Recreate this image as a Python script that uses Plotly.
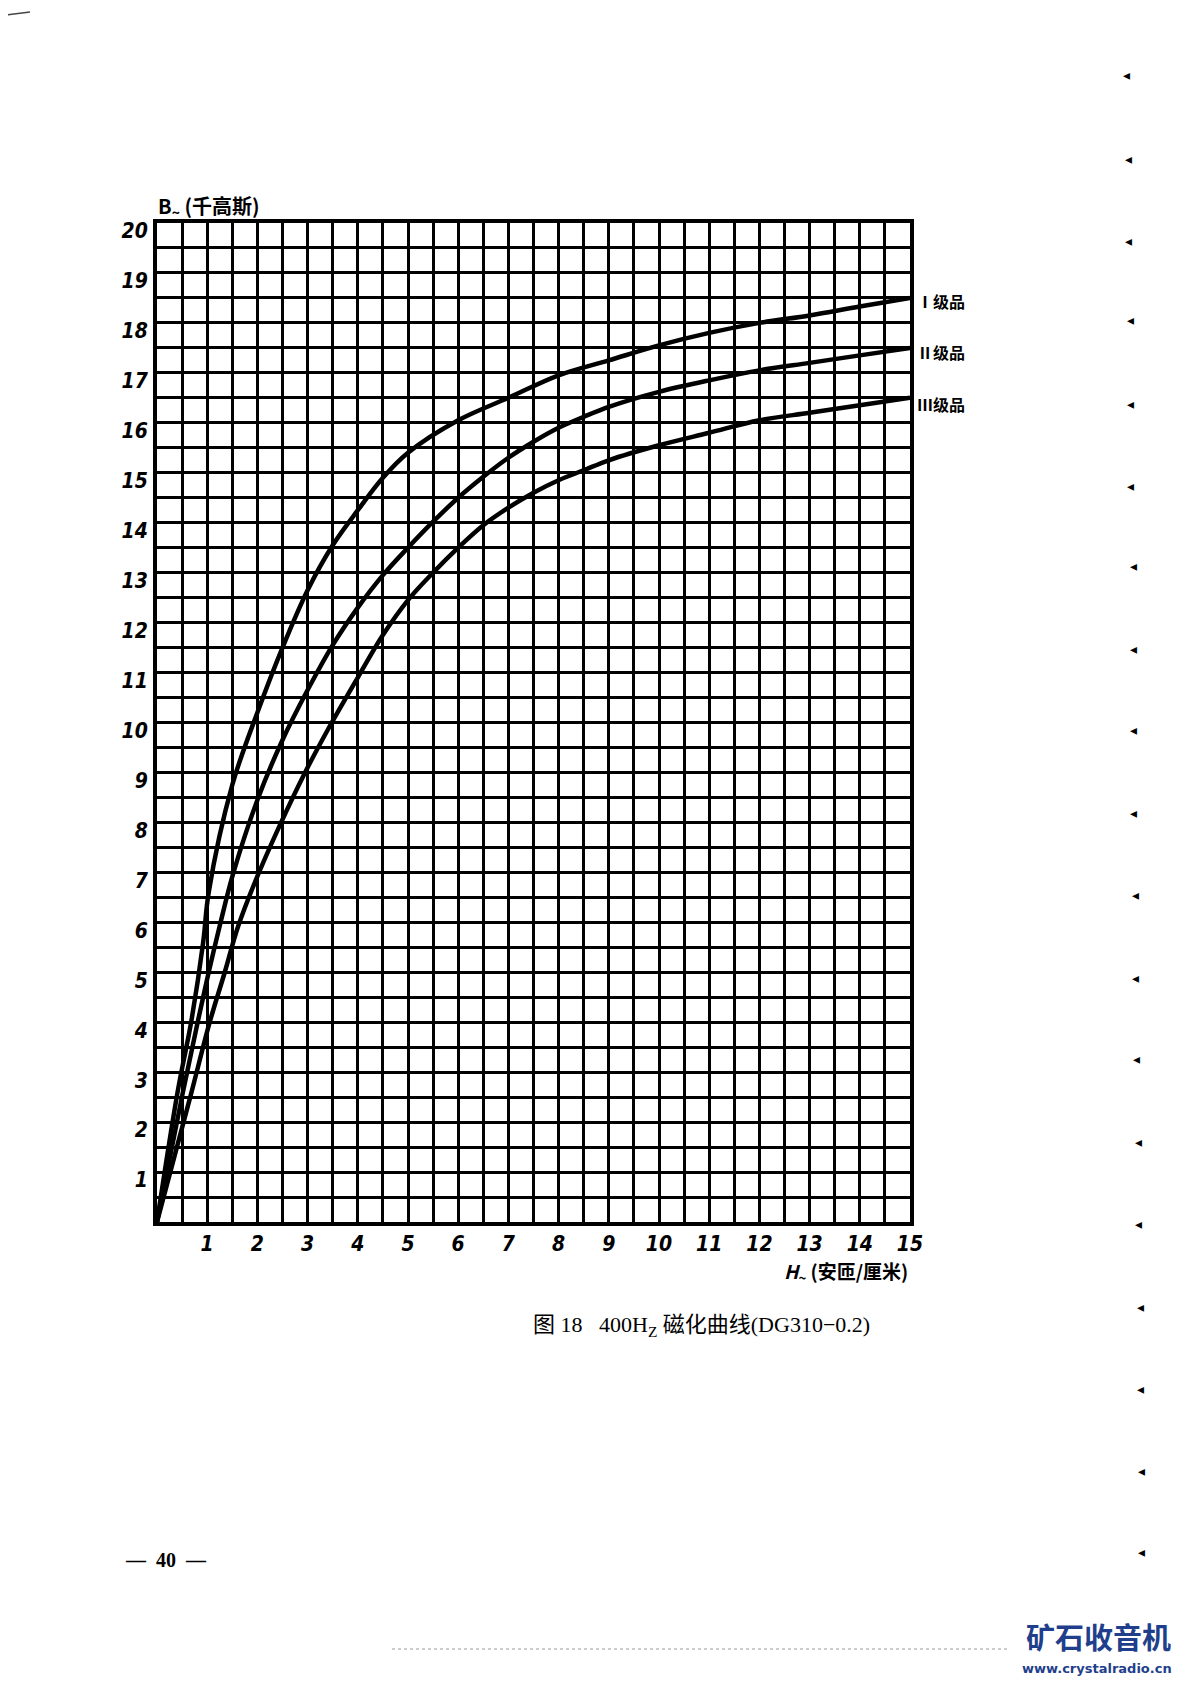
import plotly.graph_objects as go

# ---- data ----
H_I = [0, 0.41, 0.68, 0.92, 1.03, 1.5, 2.0, 2.5, 3.0, 3.5, 4.0, 4.5, 5.0, 6.0, 7.0, 8.0,
       9.0, 10.0, 11.0, 12.0, 13.0, 14.0, 15.0]
B_I = [0, 2.6, 4.0, 5.6, 6.6, 8.75, 10.2, 11.5, 12.65, 13.55, 14.25, 14.9, 15.4, 16.05, 16.5,
       16.95, 17.25, 17.55, 17.8, 18.0, 18.15, 18.33, 18.5]

H_II = [0, 0.51, 0.81, 1.03, 1.25, 1.51, 2.0, 2.5, 3.0, 3.5, 4.0, 4.5, 5.0, 5.5, 6.0, 6.5,
        7.0, 7.5, 8.0, 8.5, 9.0, 10.0, 11.0, 12.0, 13.0, 14.0, 15.0]
B_II = [0, 2.57, 4.0, 5.0, 5.93, 6.95, 8.45, 9.65, 10.65, 11.55, 12.3, 12.95, 13.5, 14.02,
        14.5, 14.92, 15.3, 15.62, 15.9, 16.12, 16.32, 16.62, 16.85, 17.05, 17.2, 17.35, 17.5]

H_III = [0, 0.68, 1.05, 1.35, 1.61, 1.95, 2.45, 2.95, 3.4, 4.0, 4.5, 5.0, 5.5, 6.0, 6.5,
         7.0, 7.5, 8.0, 8.5, 9.0, 10.0, 11.0, 12.0, 13.0, 14.0, 15.0]
B_III = [0, 2.57, 4.0, 5.0, 5.9, 6.8, 7.95, 9.0, 9.85, 10.9, 11.75, 12.45, 13.0, 13.5, 13.95,
         14.3, 14.6, 14.85, 15.05, 15.25, 15.55, 15.8, 16.05, 16.2, 16.35, 16.5]

series_names = ["Ⅰ级品", "Ⅱ级品", "Ⅲ级品"]
x_ticks = list(range(1, 16))
y_ticks = list(range(1, 21))
y_title = "B<sub>~</sub> (千高斯)"
x_title = "<i>H</i><sub>~</sub> (安匝/厘米)"
caption = "图 18   400H<sub>Z</sub> 磁化曲线(DG310−0.2)"
page_no = "—  40  —"

PAGE_W, PAGE_H = 1187, 1684
OFF = 8  # default body margin of the html page
FIG_W, FIG_H = PAGE_W - 2 * OFF, PAGE_H - 2 * OFF
L, R, T, B = 157, 910, 223, 1222  # plot area in page pixels


def px(X):
    return (X - L) / (R - L)


def py(Y):
    return (B - Y) / (B - T)


fig = go.Figure()
curves = [(H_I, B_I), (H_II, B_II), (H_III, B_III)]
for (xs, ys), nm in zip(curves, series_names):
    fig.add_trace(go.Scatter(x=xs, y=ys, mode="lines", name=nm,
                             line=dict(color="black", width=4.5, shape="spline", smoothing=1.0),
                             showlegend=False, cliponaxis=True))

tickfont = dict(family="DejaVu Sans Condensed, DejaVu Sans", size=21, color="black")

fig.update_xaxes(range=[0, 15], tickmode="array", tickvals=x_ticks,
                 ticktext=[f"<b><i>{v}</i></b>" for v in x_ticks],
                 showgrid=True, gridcolor="black", gridwidth=2.5,
                 minor=dict(tick0=0, dtick=0.5, showgrid=True, gridcolor="black", gridwidth=2.5),
                 showline=True, linecolor="black", linewidth=4, mirror=True,
                 zeroline=False, ticks="", tickfont=tickfont, ticklabelstandoff=0)
fig.update_yaxes(range=[0, 20], tickmode="array", tickvals=y_ticks,
                 ticktext=[f"<b><i>{v}</i></b>" for v in y_ticks],
                 showgrid=True, gridcolor="black", gridwidth=2.5,
                 minor=dict(tick0=0, dtick=0.5, showgrid=True, gridcolor="black", gridwidth=2.5),
                 showline=True, linecolor="black", linewidth=4, mirror=True,
                 zeroline=False, ticks="", tickfont=tickfont, ticklabelstandoff=1,
                 ticklabelshift=8)

ann = []
# axis titles
ann.append(dict(x=px(156), y=py(206), xref="paper", yref="paper", xanchor="left",
                yanchor="middle", text=f"<b>{y_title}</b>", showarrow=False,
                font=dict(family="Noto Sans CJK SC", size=20, color="black")))
ann.append(dict(x=px(910), y=py(1272), xref="paper", yref="paper", xanchor="right",
                yanchor="middle", text=f"<b>{x_title}</b>", showarrow=False,
                font=dict(family="Noto Sans CJK SC", size=19, color="black")))
# curve labels
for nm, yy in zip(series_names, [301, 352, 404]):
    ann.append(dict(x=px(915), y=py(yy), xref="paper", yref="paper", xanchor="left",
                    yanchor="middle", text=f"<b>{nm}</b>", showarrow=False,
                    font=dict(family="Noto Sans CJK SC", size=16, color="black")))
# caption
ann.append(dict(x=px(701), y=py(1326), xref="paper", yref="paper",
                xanchor="center", yanchor="middle", text=caption, showarrow=False,
                font=dict(family="Liberation Serif, Noto Sans CJK SC", size=22, color="black")))
# page number
ann.append(dict(x=px(166), y=py(1560), xref="paper", yref="paper",
                xanchor="center", yanchor="middle", text=f"<b>{page_no}</b>", showarrow=False,
                font=dict(family="Liberation Serif", size=20, color="black")))
# watermark
ann.append(dict(x=px(1098), y=py(1636), xref="paper", yref="paper",
                xanchor="center", yanchor="middle", text="<b>矿石收音机</b>", showarrow=False,
                font=dict(family="Noto Sans CJK SC", size=29, color="#1f3f8c")))
ann.append(dict(x=px(1097), y=py(1668), xref="paper", yref="paper",
                xanchor="center", yanchor="middle", text="<b>www.crystalradio.cn</b>",
                showarrow=False, font=dict(family="DejaVu Sans", size=13, color="#1f3f8c")))
# small scan marks along right edge
marks_y = [75, 159, 241, 320, 404, 486, 566, 649, 730, 813, 895, 978, 1059, 1142, 1224,
           1307, 1389, 1471, 1552]
marks_x = [1126, 1128, 1128, 1130, 1130, 1130, 1133, 1133, 1133, 1133, 1135, 1135, 1136,
           1138, 1138, 1140, 1140, 1141, 1141]
for mx, my in zip(marks_x, marks_y):
    ann.append(dict(x=px(mx), y=py(my), xref="paper", yref="paper",
                    xanchor="center", yanchor="middle", text="◂", showarrow=False,
                    font=dict(family="DejaVu Sans", size=14, color="black")))

shapes = [
    dict(type="line", xref="paper", yref="paper", x0=px(392), x1=px(1010),
         y0=py(1649), y1=py(1649), line=dict(color="#9a9a9a", width=1, dash="dot")),
    dict(type="line", xref="paper", yref="paper", x0=px(6), x1=px(30),
         y0=py(15), y1=py(12), line=dict(color="#444", width=1.5)),
]

fig.update_layout(
    width=FIG_W, height=FIG_H, autosize=False,
    margin=dict(l=L - OFF, r=FIG_W + OFF - R, t=T - OFF, b=FIG_H + OFF - B, pad=0),
    paper_bgcolor="white", plot_bgcolor="white",
    annotations=ann, shapes=shapes,
)

fig.write_html("out.html")
